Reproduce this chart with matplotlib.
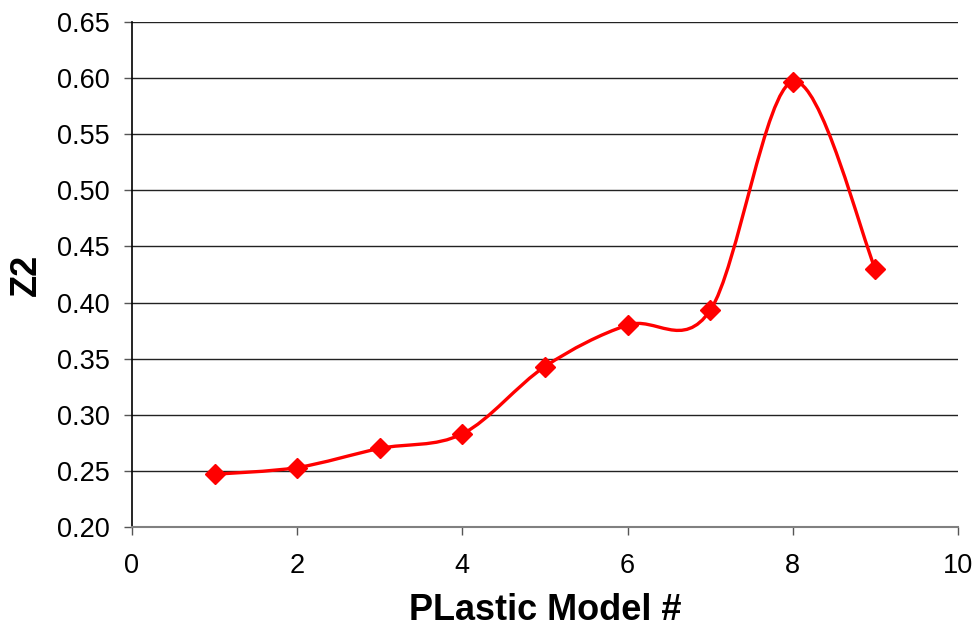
import numpy as np
import matplotlib
matplotlib.use("Agg")
import matplotlib.pyplot as plt
from matplotlib.path import Path
from matplotlib.patches import PathPatch

plt.rcParams['font.family'] = ['Liberation Sans', 'DejaVu Sans']

model = [1, 2, 3, 4, 5, 6, 7, 8, 9]
z2 = [0.247, 0.253, 0.270, 0.283, 0.343, 0.380, 0.393, 0.597, 0.430]

y_ticks = [0.20, 0.25, 0.30, 0.35, 0.40, 0.45, 0.50, 0.55, 0.60, 0.65]
x_ticks = [0, 2, 4, 6, 8, 10]

RED = '#ff0000'

fig = plt.figure(figsize=(9.74, 6.3), dpi=100)
ax = fig.add_axes([0.1355, 0.1635, 0.848, 0.8015])


def smooth_path(xs, ys):
    """Cardinal-spline (Catmull-Rom) bezier through the points."""
    x = np.asarray(xs, float)
    y = np.asarray(ys, float)
    n = len(x)
    verts = [(x[0], y[0])]
    codes = [Path.MOVETO]
    for i in range(n - 1):
        x0, y0 = (x[i - 1], y[i - 1]) if i > 0 else (x[i], y[i])
        x3, y3 = (x[i + 2], y[i + 2]) if i + 2 < n else (x[i + 1], y[i + 1])
        c1 = (x[i] + (x[i + 1] - x0) / 6, y[i] + (y[i + 1] - y0) / 6)
        c2 = (x[i + 1] - (x3 - x[i]) / 6, y[i + 1] - (y3 - y[i]) / 6)
        verts += [c1, c2, (x[i + 1], y[i + 1])]
        codes += [Path.CURVE4] * 3
    return Path(verts, codes)


ax.add_patch(PathPatch(smooth_path(model, z2), fill=False, edgecolor=RED,
                       linewidth=2.4, zorder=3, capstyle='round'))
ax.plot(model, z2, linestyle='none', marker='D', markersize=10.5,
        color=RED, zorder=4)

ax.set_xlim(0, 10)
ax.set_ylim(0.20, 0.65)
ax.set_xticks(x_ticks)
ax.set_yticks(y_ticks)
ax.set_yticklabels([f'{v:.2f}' for v in y_ticks])

ax.yaxis.grid(True, color='#222222', linewidth=1.0)
ax.set_axisbelow(True)

for side in ('top', 'right'):
    ax.spines[side].set_visible(False)
ax.spines['left'].set_color('#000000')
ax.spines['left'].set_linewidth(1.2)
ax.spines['bottom'].set_color('#808080')
ax.spines['bottom'].set_linewidth(1.5)

ax.tick_params(axis='both', direction='out', length=6, width=1,
               colors='#555555', labelcolor='black', labelsize=19.5)
ax.tick_params(axis='y', pad=10)
ax.tick_params(axis='x', pad=13)

ax.set_xlabel('PLastic Model #', fontsize=26, fontweight='bold')
ax.set_ylabel('Z2', fontsize=26, fontweight='bold')
ax.xaxis.set_label_coords(0.5, -0.131)
ax.yaxis.set_label_coords(-0.107, 0.5)

fig.savefig('out.png', dpi=100)
